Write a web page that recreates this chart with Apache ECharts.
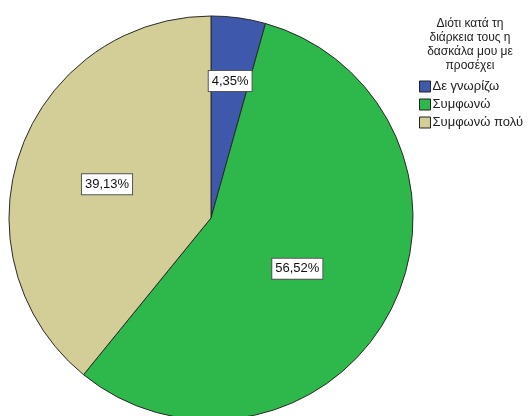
<!DOCTYPE html>
<html>
<head>
<meta charset="utf-8">
<script src="https://cdn.jsdelivr.net/npm/echarts@6/dist/echarts.min.js"></script>
<style>
  html, body { margin: 0; padding: 0; background: #fff; }
  #chart { width: 528px; height: 416px; }
</style>
</head>
<body>
<div id="chart"></div>
<script>
// Answers to the survey item and their share of responses (%)
const categories = ['Δε γνωρίζω', 'Συμφωνώ', 'Συμφωνώ πολύ'];
const shares = [4.35, 56.52, 39.13];
const legendTitle = 'Διότι κατά τη\nδιάρκεια τους η\nδασκάλα μου με\nπροσέχει';

// Fill colour per slice
const sliceColors = ['#3e58ac', '#2eb84b', '#d3ce97'];
// Nudge of each value box away from the default inside spot
const labelNudge = [[5, -34], [-6, 3], [-6, 1]];

const chart = echarts.init(document.getElementById('chart'), null, { renderer: 'canvas' });

const fmt = v => v.toFixed(2).replace('.', ',') + '%';

chart.setOption({
  animation: false,
  backgroundColor: '#ffffff',
  textStyle: { fontFamily: 'Liberation Sans, Arial, sans-serif' },
  title: {
    text: legendTitle,
    left: 465,
    top: 12,
    textAlign: 'center',
    textStyle: {
      fontFamily: 'Liberation Sans, Arial, sans-serif',
      fontSize: 12,
      fontWeight: 'normal',
      color: '#222',
      lineHeight: 14
    }
  },
  legend: {
    orient: 'vertical',
    left: 414,
    top: 75,
    itemWidth: 11,
    itemHeight: 11,
    itemGap: 5,
    icon: 'rect',
    data: categories,
    itemStyle: { borderColor: '#222', borderWidth: 1 },
    textStyle: {
      fontFamily: 'Liberation Sans, Arial, sans-serif',
      fontSize: 13,
      color: '#222',
      padding: [0, 0, 0, -3]
    }
  },
  series: [{
    type: 'pie',
    center: [211, 218],
    radius: [0, 202],
    startAngle: 90,
    clockwise: true,
    avoidLabelOverlap: false,
    silent: true,
    itemStyle: { borderColor: '#2a2a2a', borderWidth: 1 },
    label: {
      show: true,
      position: 'inside',
      formatter: p => fmt(p.value),
      fontFamily: 'Liberation Sans, Arial, sans-serif',
      fontSize: 13,
      color: '#111',
      backgroundColor: '#ffffff',
      borderColor: '#555',
      borderWidth: 1,
      padding: [4, 3, 3, 3]
    },
    labelLine: { show: false },
    labelLayout: p => ({ dx: labelNudge[p.dataIndex][0], dy: labelNudge[p.dataIndex][1] }),
    data: categories.map((name, i) => ({
      name,
      value: shares[i],
      itemStyle: { color: sliceColors[i] }
    }))
  }]
});
</script>
</body>
</html>
